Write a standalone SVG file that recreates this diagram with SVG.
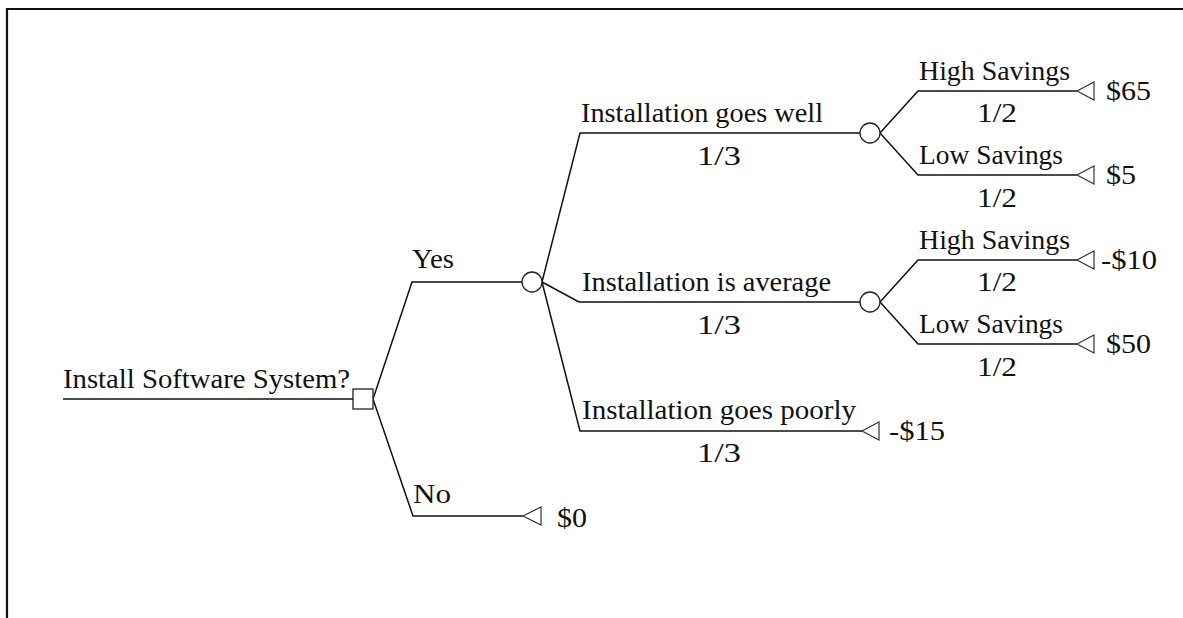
<svg xmlns="http://www.w3.org/2000/svg" width="1183" height="618" viewBox="0 0 1183 618">
<style>
.t{font-family:"Liberation Serif","Times New Roman",serif;font-size:27px;fill:#111}
.v{font-family:"Liberation Serif","Times New Roman",serif;font-size:28px;fill:#111}
.e{fill:none;stroke:#111;stroke-width:1.5}
.c{fill:#fff;stroke:#222;stroke-width:1.3}
.p{fill:#fff;stroke:#333;stroke-width:1.2}
</style>
<rect width="1183" height="618" fill="#fff"/>
<path d="M7,618 V9 H1183" fill="none" stroke="#111" stroke-width="2.2"/>
<g id="connectors">
<path class="e" d="M63,399 H353"/>
<path class="e" d="M373,399 L412,282 H522"/>
<path class="e" d="M373,399 L413,516 H523"/>
<path class="e" d="M542,282 L580,133 H860"/>
<path class="e" d="M542,282 L579,302 H860"/>
<path class="e" d="M542,282 L580,431 H862"/>
<path class="e" d="M880,133 L918,91 H1077"/>
<path class="e" d="M880,133 L918,175 H1077"/>
<path class="e" d="M880,302 L918,260 H1077"/>
<path class="e" d="M880,302 L918,344 H1077"/>
</g>
<g id="root">
<text class="t" x="63" y="388" textLength="287" lengthAdjust="spacingAndGlyphs">Install Software System?</text>
</g>
<g id="decision">
<rect class="c" x="353" y="389" width="20" height="20"/>
</g>
<g id="yes-label"><text class="t" x="412" y="268" textLength="42" lengthAdjust="spacingAndGlyphs">Yes</text></g>
<g id="no-label"><text class="t" x="413" y="503" textLength="38" lengthAdjust="spacingAndGlyphs">No</text></g>
<g id="chance-install">
<circle class="c" cx="532" cy="282" r="10"/>
</g>
<g id="no-payoff">
<polygon class="p" points="523,516 541,507 541,525"/>
<text class="v" x="557" y="527" textLength="30" lengthAdjust="spacingAndGlyphs">$0</text>
</g>
<g id="well-label">
<text class="t" x="581" y="122" textLength="242" lengthAdjust="spacingAndGlyphs">Installation goes well</text>
<text class="t" x="697" y="165" textLength="44" lengthAdjust="spacingAndGlyphs">1/3</text>
</g>
<g id="average-label">
<text class="t" x="582" y="291" textLength="249" lengthAdjust="spacingAndGlyphs">Installation is average</text>
<text class="t" x="697" y="334" textLength="44" lengthAdjust="spacingAndGlyphs">1/3</text>
</g>
<g id="poorly-label">
<text class="t" x="582" y="419" textLength="274" lengthAdjust="spacingAndGlyphs">Installation goes poorly</text>
<text class="t" x="697" y="462" textLength="44" lengthAdjust="spacingAndGlyphs">1/3</text>
</g>
<g id="poorly-payoff">
<polygon class="p" points="862,431 879,422 879,440"/>
<text class="v" x="889" y="440" textLength="56" lengthAdjust="spacingAndGlyphs">-$15</text>
</g>
<g id="chance-well"><circle class="c" cx="870" cy="133" r="10"/></g>
<g id="chance-average"><circle class="c" cx="870" cy="302" r="10"/></g>
<g id="well-high">
<text class="t" x="919" y="80" textLength="151" lengthAdjust="spacingAndGlyphs">High Savings</text>
<text class="t" x="977" y="122" textLength="40" lengthAdjust="spacingAndGlyphs">1/2</text>
<polygon class="p" points="1077,91 1094,82 1094,100"/>
<text class="v" x="1106" y="100" textLength="45" lengthAdjust="spacingAndGlyphs">$65</text>
</g>
<g id="well-low">
<text class="t" x="919" y="164" textLength="144" lengthAdjust="spacingAndGlyphs">Low Savings</text>
<text class="t" x="977" y="207" textLength="40" lengthAdjust="spacingAndGlyphs">1/2</text>
<polygon class="p" points="1077,175 1094,166 1094,184"/>
<text class="v" x="1106" y="184" textLength="30" lengthAdjust="spacingAndGlyphs">$5</text>
</g>
<g id="average-high">
<text class="t" x="919" y="249" textLength="151" lengthAdjust="spacingAndGlyphs">High Savings</text>
<text class="t" x="977" y="291" textLength="40" lengthAdjust="spacingAndGlyphs">1/2</text>
<polygon class="p" points="1077,260 1094,251 1094,269"/>
<text class="v" x="1101" y="269" textLength="56" lengthAdjust="spacingAndGlyphs">-$10</text>
</g>
<g id="average-low">
<text class="t" x="919" y="333" textLength="144" lengthAdjust="spacingAndGlyphs">Low Savings</text>
<text class="t" x="977" y="376" textLength="40" lengthAdjust="spacingAndGlyphs">1/2</text>
<polygon class="p" points="1077,344 1094,335 1094,353"/>
<text class="v" x="1106" y="353" textLength="45" lengthAdjust="spacingAndGlyphs">$50</text>
</g>
</svg>
